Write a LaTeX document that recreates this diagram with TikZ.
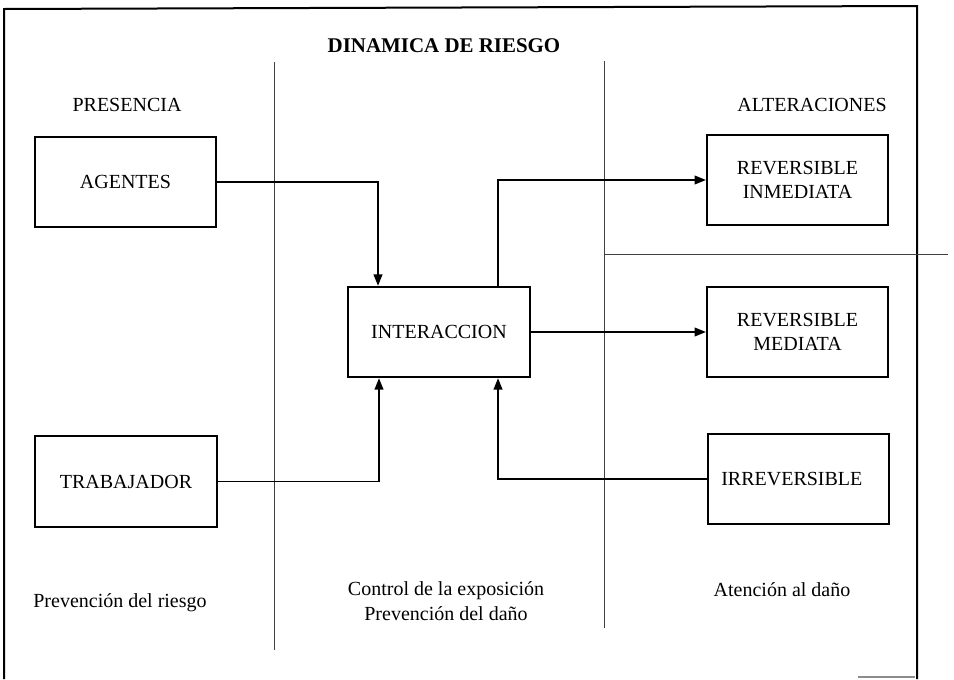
\documentclass[tikz,border=0pt]{standalone}
\usepackage{fontspec}
\setmainfont{Liberation Serif}
\usetikzlibrary{arrows.meta}

\tikzset{every picture/.style={line width=0.75pt}}
\tikzset{
  riskbox/.style={draw, line width=1.3pt, minimum width=136pt, minimum height=68pt, align=center, inner sep=2pt},
  flow/.style={line width=1.3pt, -{Triangle[length=8.5pt,width=6.5pt]}},
  divider/.style={line width=0.7pt, color=black!75},
  label/.style={inner sep=0.75pt, align=center}
}

\begin{document}
\begin{tikzpicture}[x=0.75pt,y=0.75pt,yscale=-1,xscale=1,font=\fontsize{15}{18.5}\selectfont]
\useasboundingbox (0,0) rectangle (954,679);

%Frame
\draw [line width=1.5pt] (4,679) -- (4,9) -- (917,6) -- (917,679) ;
\draw [line width=1.2pt, color=black!45] (858,677) -- (915,677) ;

%Straight Lines (columns)
\draw [divider] (274,62) -- (274,650) ;
\draw [divider] (604,61) -- (604,628) ;
\draw [divider] (604,254) -- (948,254) ;

%Shape: Rectangle
\node [riskbox] (agentes) at (125.5,182) {AGENTES};
\node [riskbox] (trabajador) at (126,481.5) {TRABAJADOR};
\node [riskbox] (interaccion) at (439,332) {INTERACCION};
\node [riskbox] (inmediata) at (797.5,180) {REVERSIBLE\\INMEDIATA};
\node [riskbox] (mediata) at (797.5,332) {REVERSIBLE\\MEDIATA};
\node [riskbox] (irreversible) at (798.5,479) {IRREVERSIBLE\hspace*{10pt}};

%Connectors
\draw [flow] (agentes.east) -| ([xshift=-45.75pt]interaccion.north) ;
\draw [flow] (trabajador.east) -| ([xshift=-45pt]interaccion.south) ;
\draw [flow] (irreversible.west) -| ([xshift=44.25pt]interaccion.south) ;
\draw [flow] ([xshift=44.25pt]interaccion.north) |- (inmediata.west) ;
\draw [flow] (interaccion.east) -- (mediata.west) ;

% Text Node
\node [label, font=\fontsize{15.7}{18.5}\selectfont\bfseries] (titulo) at (444,46) {DINAMICA DE RIESGO};
% Text Node
\node [label] (presencia) at (127,105) {PRESENCIA};
% Text Node
\node [label] (alteraciones) at (812,105) {ALTERACIONES};
% Text Node
\node [label] (prevriesgo) at (120,603) {Prevención del riesgo};
% Text Node
\node [label] (control) at (446,601) {Control de la exposición\\Prevención del daño};
% Text Node
\node [label] (atencion) at (782,590) {Atención al daño};

\end{tikzpicture}
\end{document}
